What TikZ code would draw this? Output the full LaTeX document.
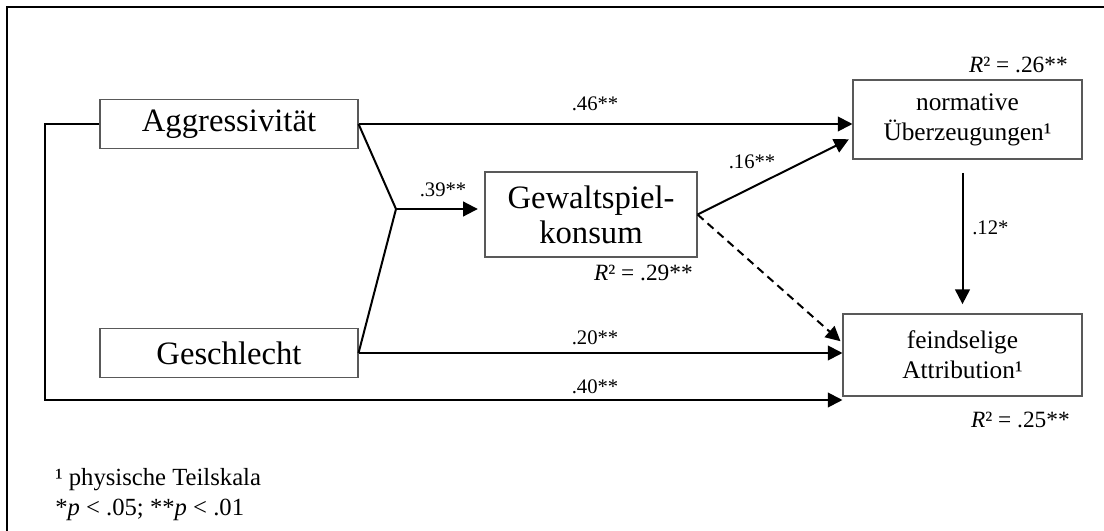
\documentclass[tikz,border=0pt]{standalone}
\usepackage{fontspec}
\setmainfont{Liberation Serif}
\usetikzlibrary{arrows.meta}
\begin{document}
\begin{tikzpicture}[x=0.75pt,y=-0.75pt,
  box/.style={draw=black!65, line width=0.8pt, inner sep=0pt, align=center},
  bigbox/.style={box, font=\fontsize{24.5}{26}\selectfont},
  smallbox/.style={box, font=\fontsize{19}{22.5}\selectfont},
  conn/.style={line width=1.5pt, -{Triangle[length=11pt,width=11pt]}},
  coef/.style={font=\fontsize{15.5}{17}\selectfont, inner sep=0pt},
  rsq/.style={font=\fontsize{17.5}{19}\selectfont, inner sep=0pt, anchor=east},
  note/.style={font=\fontsize{18.5}{20}\selectfont, inner sep=0pt, anchor=west}]
\useasboundingbox (0,0) rectangle (1104,531);

% frame
\draw[line width=1.8pt] (7,531) -- (7,7) -- (1104,7);

% variables
\node[bigbox, minimum width=193.5pt, minimum height=36.75pt] (agg) at (229,124) {Aggressivität};
\node[bigbox, minimum width=193.5pt, minimum height=36.75pt] (ges) at (229,353) {Geschlecht};
\node[bigbox, minimum width=159pt, minimum height=63.75pt] (gew) at (591,214.5) {Gewaltspiel-\\konsum};
\node[smallbox, minimum width=171.75pt, minimum height=59.25pt] (nor) at (967.5,119.5) {normative\\Überzeugungen¹};
\node[smallbox, minimum width=179.25pt, minimum height=61.5pt] (fei) at (962.5,355) {feindselige\\Attribution¹};

% junction of the two predictors and the left detour
\coordinate (J) at (396,209);
\coordinate (LT) at (45,124);
\coordinate (LB) at (45,400);

% paths
\draw[line width=1.5pt] (agg.east) -- (J) -- (ges.east);
\draw[conn, shorten >=5pt] (J) -- (J -| gew.west);
\draw[conn] (agg.east) -- (agg.east -| nor.west);
\draw[conn, shorten >=3pt] (gew.east) -- ([yshift=-13.5pt]nor.west);
\draw[conn, shorten <=10pt, shorten >=7pt] (nor.south -| fei.north) -- (fei.north);
\draw[conn, dash pattern=on 6pt off 4pt, shorten >=2pt] (gew.east) -- ([yshift=9pt]fei.west);
\draw[conn] (ges.east) -- (ges.east -| fei.west);
\draw[conn] (agg.west) -- (LT) -- (LB) -- (LB -| fei.west);

% coefficients
\node[coef] (c46) at (595,104) {.46**};
\node[coef] (c39) at (443,190) {.39**};
\node[coef] (c16) at (752,162) {.16**};
\node[coef, anchor=west] (c12) at (972,228) {.12*};
\node[coef] (c20) at (595,338) {.20**};
\node[coef] (c40) at (595,387) {.40**};

% explained variance
\node[rsq] (r26) at (1068,65) {\textit{R}² = .26**};
\node[rsq] (r29) at (693,273) {\textit{R}² = .29**};
\node[rsq] (r25) at (1070,420) {\textit{R}² = .25**};

% notes
\node[note] (n1) at (55,480) {¹ physische Teilskala};
\node[note] (n2) at (55,510) {*\textit{p} < .05; **\textit{p} < .01};
\end{tikzpicture}
\end{document}
